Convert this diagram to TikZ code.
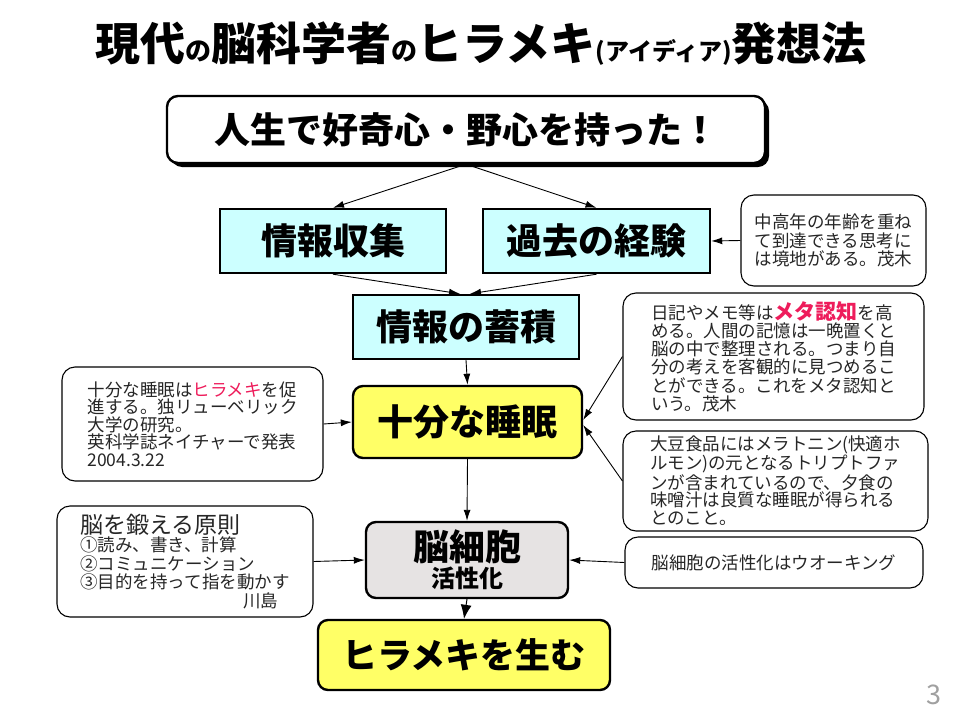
\documentclass[tikz,border=0pt]{standalone}
\usepackage{fontspec}
\setmainfont{Noto Sans CJK JP}
\usetikzlibrary{arrows.meta,shadows}
\definecolor{boxcyan}{HTML}{CCFFFF}
\definecolor{boxyellow}{HTML}{FFFF66}
\definecolor{boxgray}{HTML}{E6E3E3}
\definecolor{accentred}{HTML}{EE1C5B}
\definecolor{notetext}{HTML}{262626}
\definecolor{pagegray}{HTML}{A0A0A0}
\begin{document}
\begin{tikzpicture}[x=1pt,y=-1pt,
  mainbox/.style={draw=black,line width=2.4pt,inner sep=0pt,align=center,
    font=\bfseries\fontsize{36}{36}\selectfont},
  notebox/.style={draw=black,line width=1.1pt,rounded corners=13pt,inner sep=0pt,
    align=left,text=notetext,font=\fontsize{17.5}{18.6}\selectfont},
  arr/.style={draw=black,line width=0.9pt,-{Latex[length=11pt,width=7pt]}},
  bigarr/.style={draw=black,line width=1pt,-{Latex[length=14pt,width=11pt]}}
]
\useasboundingbox (0,0) rectangle (960,720);
\fill[white] (0,0) rectangle (960,720);

% title
\node[font=\bfseries\fontsize{45}{45}\selectfont,inner sep=0pt] (title) at (481,44)
  {現代{\fontsize{26}{26}\selectfont の}脳科学者{\fontsize{26}{26}\selectfont の}ヒラメキ{\fontsize{24}{24}\selectfont (アイディア)}発想法};

% main boxes
\node[mainbox,fill=white,rounded corners=11pt,minimum width=598pt,minimum height=67pt,
  drop shadow={shadow xshift=4pt,shadow yshift=-4pt,fill=black,opacity=1}] (top) at (466,129.5)
  {人生で好奇心・野心を持った！};
\node[mainbox,fill=boxcyan,minimum width=226pt,minimum height=64pt] (c1) at (333,241) {情報収集};
\node[mainbox,fill=boxcyan,minimum width=227pt,minimum height=64pt] (c2) at (596.5,241) {過去の経験};
\node[mainbox,fill=boxcyan,minimum width=226pt,minimum height=64pt] (c3) at (466,327) {情報の蓄積};
\node[mainbox,fill=boxyellow,rounded corners=10pt,minimum width=229pt,minimum height=72pt] (y1) at (467.5,422) {十分な睡眠};
\node[mainbox,fill=boxgray,rounded corners=10pt,minimum width=202pt,minimum height=76pt] (g) at (467,560)
  {脳細胞\\[-9pt]{\fontsize{24}{24}\selectfont 活性化}};
\node[mainbox,fill=boxyellow,rounded corners=10pt,minimum width=292pt,minimum height=70pt,
  font=\bfseries\fontsize{35}{35}\selectfont] (y2) at (464,655) {ヒラメキを生む};

% notes
\node[notebox,minimum width=185pt,minimum height=91pt] (nA) at (833.5,240.5)
  {中高年の年齢を重ね\\て到達できる思考に\\は境地がある。茂木};
\node[notebox,minimum width=301pt,minimum height=127pt,font=\fontsize{17.5}{18.2}\selectfont] (nB) at (773.5,356.5)
  {日記やメモ等は{\bfseries\color{accentred}\fontsize{21}{18}\selectfont メタ認知}を高\\める。人間の記憶は一晩置くと\\脳の中で整理される。つまり自\\分の考えを客観的に見つめるこ\\とができる。これをメタ認知と\\いう。茂木};
\node[notebox,minimum width=305pt,minimum height=100pt,font=\fontsize{17.5}{17.8}\selectfont] (nC) at (775.5,481)
  {大豆食品にはメラトニン(快適ホ\\ルモン)の元となるトリプトファ\\ンが含まれているので、夕食の\\味噌汁は良質な睡眠が得られる\\とのこと。};
\node[notebox,minimum width=298pt,minimum height=51pt] (nD) at (774,562.5)
  {脳細胞の活性化はウオーキング};
\node[notebox,minimum width=261pt,minimum height=114pt,font=\fontsize{17.5}{17.5}\selectfont] (nE) at (192.5,424)
  {十分な睡眠は{\color{accentred}ヒラメキ}を促\\進する。独リューベリック\\大学の研究。\\英科学誌ネイチャーで発表\\2004.3.22};
\node[notebox,minimum width=256pt,minimum height=111pt,font=\fontsize{17.5}{18.5}\selectfont] (nF) at (185,561.5)
  {{\fontsize{23}{23}\selectfont 脳を鍛える原則}\\①読み、書き、計算\\②コミュニケーション\\③目的を持って指を動かす\\\hspace*{163pt}川島};

% page number
\node[text=pagegray,font=\fontsize{27}{27}\selectfont,inner sep=0pt] (pg) at (934,695) {3};

% connectors
\draw[arr] (top.south) -- (c1.north);
\draw[arr] (top.south) -- (c2.north);
\draw[arr] (c1.south) -- ([xshift=-6pt]c3.north);
\draw[arr] (c2.south) -- ([xshift=4pt]c3.north);
\draw[arr] (c3.south) -- (y1.north);
\draw[arr] (y1.south) -- (g.north);
\draw[bigarr] (g.south) -- (y2.north);
\draw[arr] (nA.west) -- (c2.east);
\draw[arr] (nB.west) -- ([yshift=2pt]y1.east);
\draw[arr] (nC.west) -- ([yshift=-3pt]y1.east);
\draw[arr] (nE.east) -- (y1.west);
\draw[arr] (nF.east) -- (g.west);
\draw[arr] (nD.west) -- (g.east);
\end{tikzpicture}
\end{document}
